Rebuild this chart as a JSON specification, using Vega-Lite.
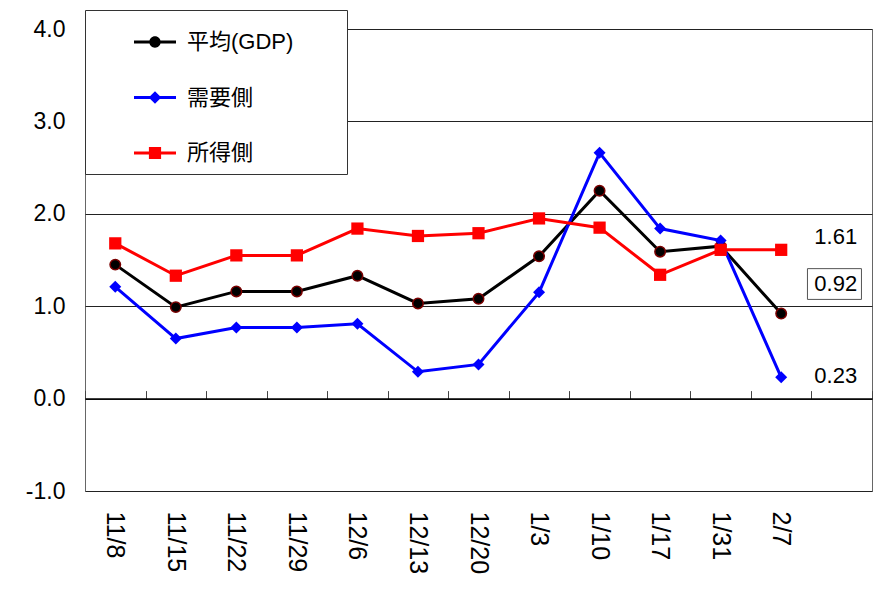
{
  "$schema": "https://vega.github.io/schema/vega-lite/v6.json",
  "autosize": "none",
  "width": 787,
  "height": 462,
  "padding": {"left": 85, "top": 29, "right": 6, "bottom": 101},
  "background": "white",
  "config": {
    "view": {"stroke": "#666", "strokeWidth": 1},
    "font": "Liberation Sans",
    "legend": {
      "orient": "none", "legendX": 0, "legendY": -19, "title": null,
      "fillColor": "white", "strokeColor": "#333", "padding": 10,
      "symbolSize": 1764, "symbolOffset": 38, "labelOffset": 10, "rowPadding": 22.5,
      "symbolOpacity": 1,
      "labelFontSize": 22, "labelFont": "Liberation Sans, Noto Sans CJK JP", "labelColor": "black"
    }
  },
  "datasets": {
    "main": [
      {"date": "11/8", "series": "平均(GDP)", "value": 1.45},
      {"date": "11/15", "series": "平均(GDP)", "value": 0.99},
      {"date": "11/22", "series": "平均(GDP)", "value": 1.16},
      {"date": "11/29", "series": "平均(GDP)", "value": 1.16},
      {"date": "12/6", "series": "平均(GDP)", "value": 1.33},
      {"date": "12/13", "series": "平均(GDP)", "value": 1.03},
      {"date": "12/20", "series": "平均(GDP)", "value": 1.08},
      {"date": "1/3", "series": "平均(GDP)", "value": 1.54},
      {"date": "1/10", "series": "平均(GDP)", "value": 2.25},
      {"date": "1/17", "series": "平均(GDP)", "value": 1.59},
      {"date": "1/31", "series": "平均(GDP)", "value": 1.65},
      {"date": "2/7", "series": "平均(GDP)", "value": 0.92},
      {"date": "11/8", "series": "需要側", "value": 1.21},
      {"date": "11/15", "series": "需要側", "value": 0.65},
      {"date": "11/22", "series": "需要側", "value": 0.77},
      {"date": "11/29", "series": "需要側", "value": 0.77},
      {"date": "12/6", "series": "需要側", "value": 0.81},
      {"date": "12/13", "series": "需要側", "value": 0.29},
      {"date": "12/20", "series": "需要側", "value": 0.37},
      {"date": "1/3", "series": "需要側", "value": 1.15},
      {"date": "1/10", "series": "需要側", "value": 2.66},
      {"date": "1/17", "series": "需要側", "value": 1.84},
      {"date": "1/31", "series": "需要側", "value": 1.71},
      {"date": "2/7", "series": "需要側", "value": 0.23},
      {"date": "11/8", "series": "所得側", "value": 1.68},
      {"date": "11/15", "series": "所得側", "value": 1.33},
      {"date": "11/22", "series": "所得側", "value": 1.55},
      {"date": "11/29", "series": "所得側", "value": 1.55},
      {"date": "12/6", "series": "所得側", "value": 1.84},
      {"date": "12/13", "series": "所得側", "value": 1.76},
      {"date": "12/20", "series": "所得側", "value": 1.79},
      {"date": "1/3", "series": "所得側", "value": 1.95},
      {"date": "1/10", "series": "所得側", "value": 1.85},
      {"date": "1/17", "series": "所得側", "value": 1.34},
      {"date": "1/31", "series": "所得側", "value": 1.61},
      {"date": "2/7", "series": "所得側", "value": 1.61}
    ],
    "notes": [
      {"date": " ", "value": 1.75, "label": "1.61", "boxed": false},
      {"date": " ", "value": 1.24, "label": "0.92", "boxed": true},
      {"date": " ", "value": 0.24, "label": "0.23", "boxed": false}
    ]
  },
  "resolve": {"axis": {"x": "independent"}},
  "layer": [
    {
      "data": {"name": "main"},
      "transform": [{"filter": "datum.series === '平均(GDP)'"}],
      "mark": {"type": "line", "strokeWidth": 3, "color": "#000000"},
      "encoding": {
        "x": {
          "field": "date", "type": "ordinal",
          "scale": {"type": "band", "domain": ["11/8","11/15","11/22","11/29","12/6","12/13","12/20","1/3","1/10","1/17","1/31","2/7"," "], "paddingInner": 0, "paddingOuter": 0},
          "axis": {"orient": "bottom", "title": null, "domain": false, "ticks": false, "grid": false, "labelAngle": 90, "labelFontSize": 25, "labelPadding": 20, "labelColor": "black", "labelFont": "Liberation Sans"}
        },
        "y": {
          "field": "value", "type": "quantitative",
          "scale": {"domain": [-1, 4], "nice": false, "zero": false},
          "axis": {"title": null, "values": [-1, 0, 1, 2, 3, 4], "labelExpr": "datum.value < 0 ? '-' + format(-datum.value, '.1f') : format(datum.value, '.1f')", "grid": true, "gridColor": "#222", "gridWidth": 1, "ticks": false, "domain": false, "labelFontSize": 23, "labelPadding": 20, "labelColor": "black", "labelFont": "Liberation Sans"}
        }
      }
    },
    {
      "data": {"name": "main"},
      "transform": [{"filter": "datum.series === '需要側'"}],
      "mark": {"type": "line", "strokeWidth": 3, "color": "#0000ff"},
      "encoding": {
        "x": {"field": "date", "type": "ordinal", "axis": null},
        "y": {"field": "value", "type": "quantitative"}
      }
    },
    {
      "data": {"name": "main"},
      "transform": [{"filter": "datum.series === '所得側'"}],
      "mark": {"type": "line", "strokeWidth": 3, "color": "#ff0000"},
      "encoding": {
        "x": {"field": "date", "type": "ordinal", "axis": null},
        "y": {"field": "value", "type": "quantitative"}
      }
    },
    {
      "data": {"name": "main"},
      "mark": {"type": "point", "filled": true, "opacity": 0},
      "encoding": {
        "x": {"field": "date", "type": "ordinal", "axis": null},
        "y": {"field": "value", "type": "quantitative"},
        "color": {
          "field": "series", "type": "nominal",
          "scale": {"domain": ["平均(GDP)", "需要側", "所得側"], "range": ["#000000", "#0000ff", "#ff0000"]},
          "legend": {}
        },
        "shape": {
          "field": "series", "type": "nominal",
          "legend": {},
          "scale": {"domain": ["平均(GDP)", "需要側", "所得側"], "range": [
            "M-1,-0.07L1,-0.07L1,0.07L-1,0.07ZM0.27,0A0.27,0.27,0,1,1,-0.27,0A0.27,0.27,0,1,1,0.27,0ZM8.5,0L8.5,0",
            "M-1,-0.07L1,-0.07L1,0.07L-1,0.07ZM-0.3,0L0,-0.3L0.3,0L0,0.3ZM8.5,0L8.5,0",
            "M-1,-0.07L1,-0.07L1,0.07L-1,0.07ZM-0.29,-0.29L0.29,-0.29L0.29,0.29L-0.29,0.29ZM8.5,0L8.5,0"
          ]}
        }
      }
    },
    {
      "data": {"name": "main"},
      "transform": [{"filter": "datum.series === '平均(GDP)'"}],
      "mark": {"type": "point", "filled": true, "opacity": 1, "shape": "circle", "size": 110, "fill": "#000000", "stroke": "#7a0000", "strokeWidth": 1.5},
      "encoding": {
        "x": {
          "field": "date", "type": "ordinal",
          "axis": {"orient": "top", "offset": -369.6, "title": null, "labels": false, "ticks": true, "tickSize": 8, "tickColor": "#444", "tickBand": "extent", "domain": true, "domainColor": "#000", "domainWidth": 1.5, "grid": false}
        },
        "y": {"field": "value", "type": "quantitative"}
      }
    },
    {
      "data": {"name": "main"},
      "transform": [{"filter": "datum.series === '需要側'"}],
      "mark": {"type": "point", "filled": true, "opacity": 1, "shape": "diamond", "size": 144, "fill": "#0000ff", "strokeWidth": 0},
      "encoding": {
        "x": {"field": "date", "type": "ordinal", "axis": null},
        "y": {"field": "value", "type": "quantitative"}
      }
    },
    {
      "data": {"name": "main"},
      "transform": [{"filter": "datum.series === '所得側'"}],
      "mark": {"type": "point", "filled": true, "opacity": 1, "shape": "square", "size": 150, "fill": "#ff0000", "strokeWidth": 0},
      "encoding": {
        "x": {"field": "date", "type": "ordinal", "axis": null},
        "y": {"field": "value", "type": "quantitative"}
      }
    },
    {
      "data": {"name": "notes"},
      "mark": {"type": "text", "fontSize": 22, "font": "Liberation Sans", "color": "black", "dx": -6},
      "encoding": {
        "x": {"field": "date", "type": "ordinal", "axis": null},
        "y": {"field": "value", "type": "quantitative"},
        "text": {"field": "label"}
      }
    },
    {
      "data": {"name": "notes"},
      "transform": [{"filter": "datum.boxed"}],
      "mark": {"type": "point", "filled": false, "shape": "M-1,-0.57L1,-0.57L1,0.57L-1,0.57Z", "size": 2916, "stroke": "#555", "strokeWidth": 1, "opacity": 1},
      "encoding": {
        "x": {"field": "date", "type": "ordinal", "axis": null},
        "y": {"field": "value", "type": "quantitative"},
        "xOffset": {"value": 23}
      }
    }
  ]
}
